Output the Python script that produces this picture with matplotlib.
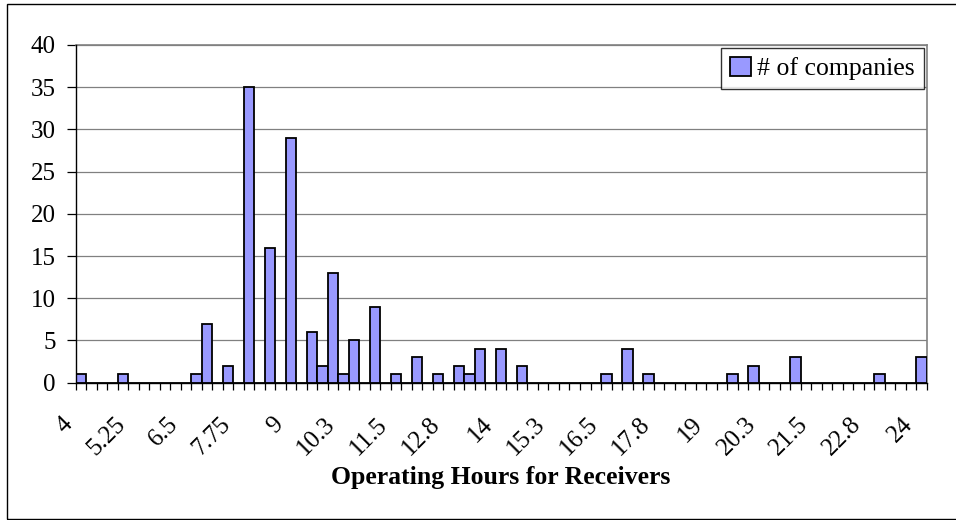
import numpy as np
import matplotlib
matplotlib.use("Agg")
import matplotlib.pyplot as plt
from matplotlib.transforms import ScaledTranslation
from matplotlib.patches import Rectangle

plt.rcParams['font.family'] = ['Liberation Serif', 'DejaVu Serif']

# Categories: operating hours from 4 to 24 in steps of 0.25
hours = [4.0, 4.25, 4.5, 4.75, 5.0, 5.25, 5.5, 5.75, 6.0, 6.25,
         6.5, 6.75, 7.0, 7.25, 7.5, 7.75, 8.0, 8.25, 8.5, 8.75,
         9.0, 9.25, 9.5, 9.75, 10.0, 10.25, 10.5, 10.75, 11.0, 11.25,
         11.5, 11.75, 12.0, 12.25, 12.5, 12.75, 13.0, 13.25, 13.5, 13.75,
         14.0, 14.25, 14.5, 14.75, 15.0, 15.25, 15.5, 15.75, 16.0, 16.25,
         16.5, 16.75, 17.0, 17.25, 17.5, 17.75, 18.0, 18.25, 18.5, 18.75,
         19.0, 19.25, 19.5, 19.75, 20.0, 20.25, 20.5, 20.75, 21.0, 21.25,
         21.5, 21.75, 22.0, 22.25, 22.5, 22.75, 23.0, 23.25, 23.5, 23.75,
         24.0]

companies = [1, 0, 0, 0, 1, 0, 0, 0, 0, 0,
             0, 1, 7, 0, 2, 0, 35, 0, 16, 0,
             29, 0, 6, 2, 13, 1, 5, 0, 9, 0,
             1, 0, 3, 0, 1, 0, 2, 1, 4, 0,
             4, 0, 2, 0, 0, 0, 0, 0, 0, 0,
             1, 0, 4, 0, 1, 0, 0, 0, 0, 0,
             0, 0, 1, 0, 2, 0, 0, 0, 3, 0,
             0, 0, 0, 0, 0, 0, 1, 0, 0, 0,
             3]

tick_labels = ["4", "5.25", "6.5", "7.75", "9", "10.3", "11.5", "12.8", "14",
               "15.3", "16.5", "17.8", "19", "20.3", "21.5", "22.8", "24"]
label_every = 5

series_name = "# of companies"
x_title = "Operating Hours for Receivers"
y_ticks = [0, 5, 10, 15, 20, 25, 30, 35, 40]

W, H = 956, 520
fig = plt.figure(figsize=(W / 100, H / 100), dpi=100)
fig.patch.set_facecolor('white')

# outer chart border
fig.patches.append(Rectangle((7 / W, 1 - 519 / H), 1.05 - 7 / W, (519 - 4) / H,
                             transform=fig.transFigure, fill=False,
                             edgecolor='black', linewidth=1.0))

left, right = 75.7 / W, 926.7 / W
bottom, top = 1 - 382.7 / H, 1 - 45 / H
ax = fig.add_axes([left, bottom, right - left, top - bottom])

x = np.arange(len(hours))
ax.bar(x, companies, width=1.0, color='#9999FF', edgecolor='black',
       linewidth=1.3, label=series_name, zorder=3)

ax.set_xlim(-0.5, len(hours) - 0.5)
ax.set_ylim(0, 40)
ax.set_yticks(y_ticks)
ax.set_yticklabels([str(v) for v in y_ticks], fontsize=18)
ax.yaxis.grid(True, color='#808080', linewidth=0.9, zorder=0)
ax.set_axisbelow(True)

# x ticks: labels at every 5th category centre, tick marks at boundaries
ax.set_xticks(x[::label_every])
ax.set_xticklabels(tick_labels, fontsize=18, rotation=45, ha='right', va='top')
ax.set_xticks(np.arange(-0.5, len(hours), 1.0), minor=True)
ax.tick_params(axis='x', which='major', length=0, pad=22)
ax.tick_params(axis='x', which='minor', length=5, width=0.9, direction='out', color='black')
ax.tick_params(axis='y', length=6.5, width=0.9, direction='out', pad=8, color='black')

offset = ScaledTranslation(-4 / 100, 0, fig.dpi_scale_trans)
for lab in ax.get_xticklabels():
    lab.set_transform(lab.get_transform() + offset)

for s in ['left', 'bottom']:
    ax.spines[s].set_color('black')
    ax.spines[s].set_linewidth(1.0)
for s in ['top', 'right']:
    ax.spines[s].set_color('#808080')
    ax.spines[s].set_linewidth(1.2)
ax.spines['left'].set_zorder(4)
ax.spines['bottom'].set_zorder(4)

fig.text(501 / W, 1 - 484 / H, x_title, fontsize=18.5, fontweight='bold',
         ha='center', va='baseline')

leg_x = (924 - 75.7) / (926.7 - 75.7)
leg_y = (382.7 - 47.7) / (382.7 - 45)
leg = ax.legend(loc='upper right', bbox_to_anchor=(leg_x, leg_y), fontsize=18.5,
                frameon=True, fancybox=False, shadow=False, borderaxespad=0,
                handlelength=0.8, handleheight=0.8, handletextpad=0.25,
                borderpad=0.35)
leg.get_frame().set_edgecolor('black')
leg.get_frame().set_linewidth(1.0)
leg.set_zorder(5)

fig.savefig("out.png", dpi=100, facecolor='white')
